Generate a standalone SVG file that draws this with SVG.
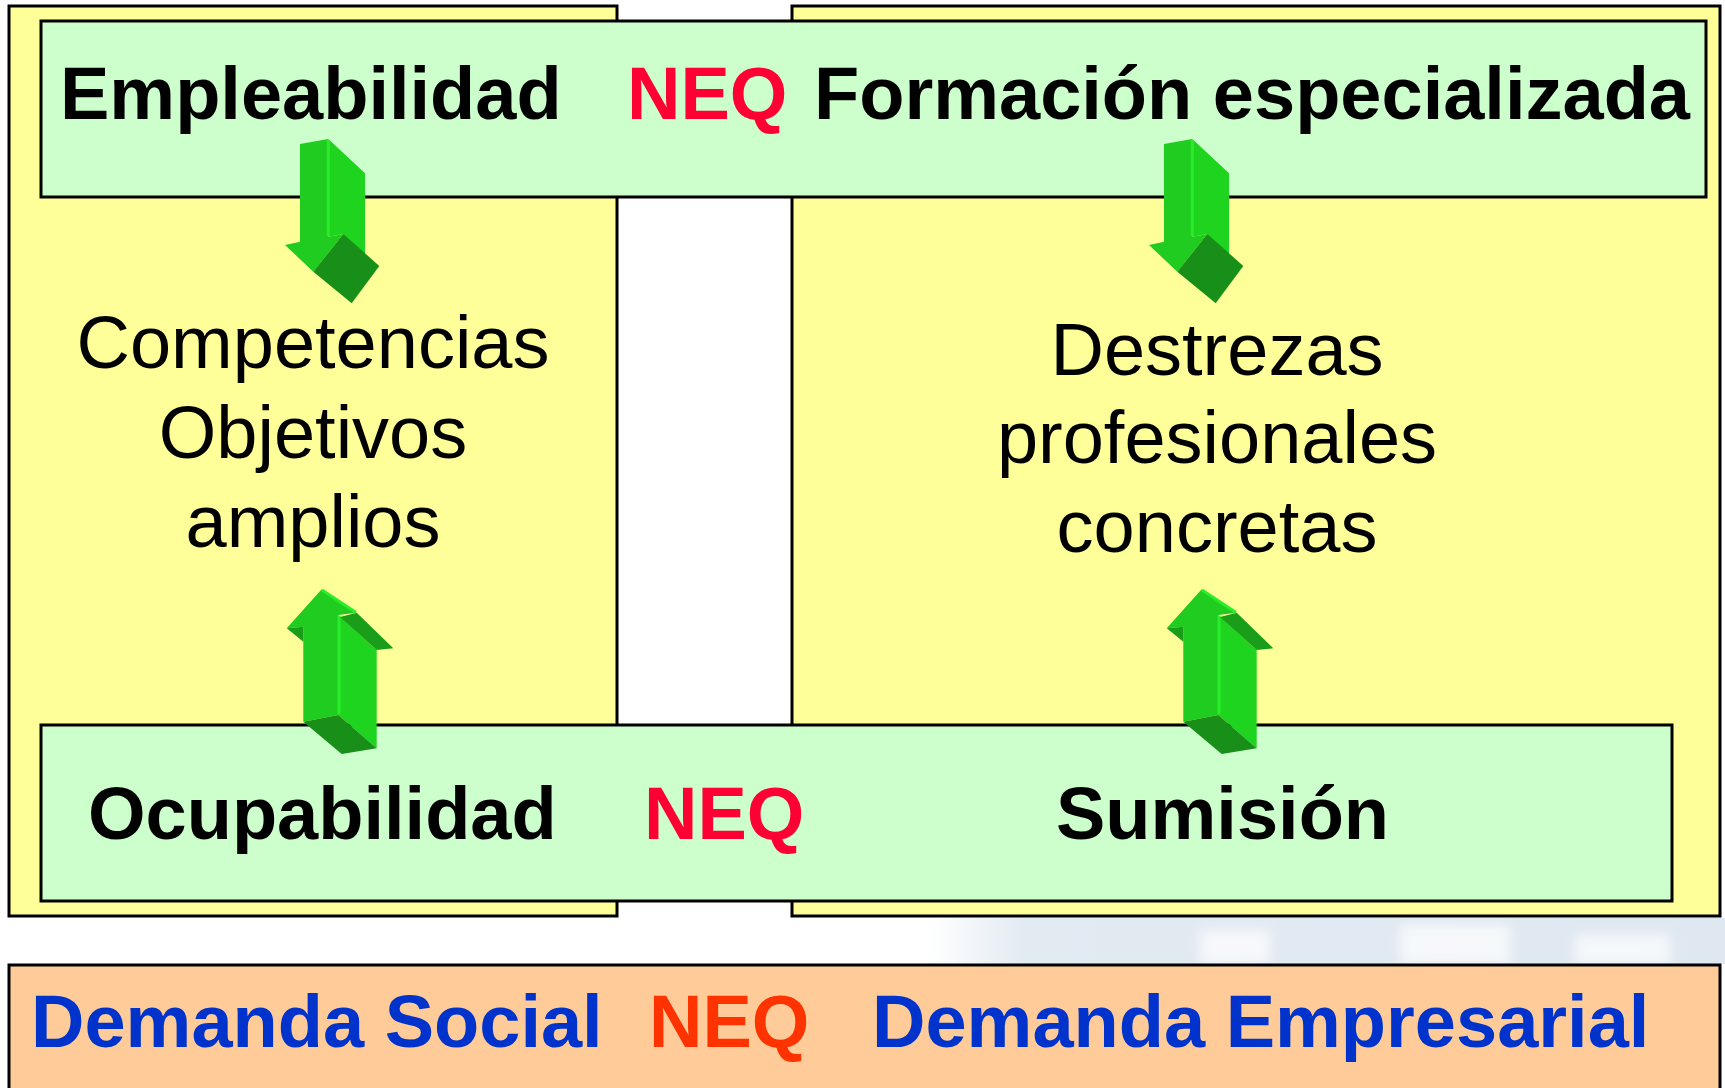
<svg xmlns="http://www.w3.org/2000/svg" xmlns:xlink="http://www.w3.org/1999/xlink" width="1725" height="1088" viewBox="0 0 1725 1088">
<style>
.yb{fill:#FFFF99;stroke:#000;stroke-width:3}
.gb{fill:#CCFFCC;stroke:#000;stroke-width:3}
.ob{fill:#FFCC99;stroke:#000;stroke-width:3}
.t{font-family:"Liberation Sans",Arial,sans-serif;font-size:74px}
.b{font-weight:bold}
.c{text-anchor:middle}
.front{fill:#1FCC1F}
.side{fill:#1ED41E}
.dark{fill:#188F18}
.under{fill:#1A9E1A}
.hl{stroke:#28EE28;stroke-width:3}
.wp{fill:#ffffff;opacity:0.7}
</style>
<defs>
<linearGradient id="bg" x1="0" y1="0" x2="1" y2="0">
<stop offset="0" stop-color="#ffffff"/>
<stop offset="0.12" stop-color="#e2eaf2"/>
<stop offset="1" stop-color="#dfe8f0"/>
</linearGradient>
<filter id="blur" x="-20%" y="-50%" width="140%" height="200%"><feGaussianBlur stdDeviation="6"/></filter>
<g id="down">
<polygon class="side" points="328.3,139 365,173.3 365,266.7 343.3,234 328.3,236.7"/>
<polygon class="front" points="300,144 328.3,139 328.3,236.7 343.3,234 313.3,271.7 285,245 300,241.7"/>
<line class="hl" x1="328.3" y1="140" x2="328.3" y2="236"/>
<polygon class="dark" points="313.3,271.7 343.3,234 379.3,266 351.7,303.3"/>
</g>
<g id="up">
<polygon class="side" points="338.3,615 376.7,650 376.7,748.3 338.3,715"/>
<polygon class="under" points="340,617 356.7,612.7 393.3,648.3 376.7,650"/>
<polygon class="front" points="321.7,589.3 356.7,612.7 338.3,615 338.3,715 303.3,721.7 303.3,626.7 286.7,628.3"/>
<polygon class="under" points="286.7,628.3 303.3,626.7 303.3,641.7"/>
<line class="hl" x1="339" y1="616" x2="339" y2="714"/>
<line class="hl" x1="322" y1="590" x2="356" y2="612.5"/>
<polygon class="dark" points="303.3,721.7 338.3,715 376.7,748.3 341.7,754"/>
</g>
</defs>
<rect width="1725" height="1088" fill="#ffffff"/>
<rect x="930" y="918" width="795" height="46" fill="url(#bg)"/>
<g filter="url(#blur)">
<rect class="wp" x="1200" y="930" width="70" height="34"/>
<rect class="wp" x="1400" y="925" width="110" height="39"/>
<rect class="wp" x="1575" y="935" width="95" height="29"/>
</g>
<g id="left-panel"><rect class="yb" x="9" y="6" width="608" height="910"/></g>
<g id="right-panel"><rect class="yb" x="792" y="6" width="928" height="910"/></g>
<g id="top-bar">
<rect class="gb" x="41" y="21" width="1665" height="176"/>
<text class="t b" x="60" y="119" fill="#000">Empleabilidad</text>
<text class="t b" x="627" y="119" fill="#FF0033">NEQ</text>
<text class="t b" x="814" y="119" fill="#000">Formación especializada</text>
</g>
<g id="bottom-bar">
<rect class="gb" x="41" y="725" width="1631" height="176"/>
<text class="t b" x="88" y="839" fill="#000">Ocupabilidad</text>
<text class="t b" x="644" y="839" fill="#FF0033">NEQ</text>
<text class="t b" x="1056" y="839" fill="#000">Sumisión</text>
</g>
<g id="left-text">
<text class="t c" x="313" y="368">Competencias</text>
<text class="t c" x="313" y="458">Objetivos</text>
<text class="t c" x="313" y="547">amplios</text>
</g>
<g id="right-text">
<text class="t c" x="1217" y="375">Destrezas</text>
<text class="t c" x="1217" y="463">profesionales</text>
<text class="t c" x="1217" y="552">concretas</text>
</g>
<g id="demand-bar">
<rect class="ob" x="9" y="965" width="1711" height="130"/>
<text class="t b" x="31" y="1047" fill="#0033CC">Demanda Social</text>
<text class="t b" x="649" y="1047" fill="#FF3300">NEQ</text>
<text class="t b" x="872" y="1047" fill="#0033CC">Demanda Empresarial</text>
</g>
<g id="connectors">
<use xlink:href="#down"/>
<use xlink:href="#down" transform="translate(864,0)"/>
<use xlink:href="#up"/>
<use xlink:href="#up" transform="translate(880,0)"/>
</g>
</svg>
